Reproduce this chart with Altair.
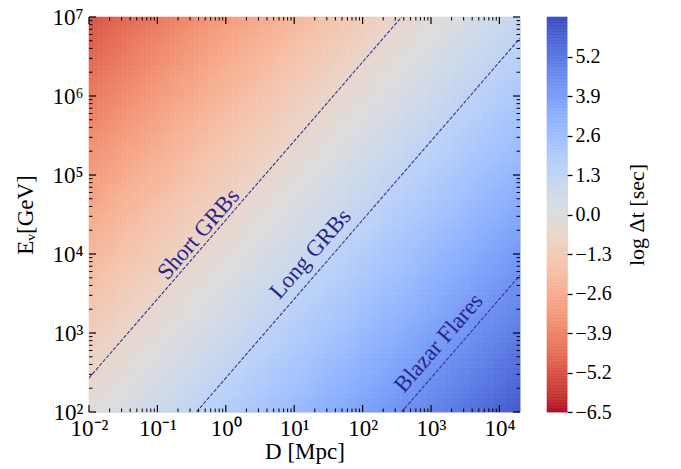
import altair as alt
import numpy as np
import pandas as pd

# ---------------- data ----------------
D_domain = [0.01, 2e4]          # Mpc
E_domain = [1e2, 1e7]           # GeV
x_tick_values = [1e-2, 1e-1, 1e0, 1e1, 1e2, 1e3, 1e4]
x_tick_labels = ["10⁻²", "10⁻¹", "10⁰", "10¹", "10²", "10³", "10⁴"]
y_tick_values = [1e2, 1e3, 1e4, 1e5, 1e6, 1e7]
y_tick_labels = ["10²", "10³", "10⁴", "10⁵", "10⁶", "10⁷"]
cbar_domain = [-6.5, 6.5]
cbar_ticks = [-6.5, -5.2, -3.9, -2.6, -1.3, 0.0, 1.3, 2.6, 3.9, 5.2]

# colour field: log dt = field_offset + log D - log E
field_offset = 3.8
n_D, n_E = 90, 80

# dashed source lines: log E = line_offset - log_dt + log D
line_offset = 4.43
sources = ["Short GRBs", "Long GRBs", "Blazar Flares"]
source_log_dt = [0.0, 2.0, 5.0]
label_D = [0.40, 17.3, 1294.0]
label_E = [1.78e4, 1.0e4, 747.0]

# coolwarm (reversed: red = negative, blue = positive)
coolwarm_r = ["#b40426", "#cb3e38", "#de604d", "#ec7f63", "#f49a7b", "#f7b194",
              "#f5c4ad", "#ecd3c5", "#dddddd", "#cdd9ec", "#b8d0f9", "#a3c2fe",
              "#8db0fe", "#779af7", "#6282ea", "#4d68d7", "#3b4cc0"]

FONT = "Liberation Serif"
W, H = 431, 395

# ---------------- tables ----------------
lD = np.linspace(np.log10(D_domain[0]), np.log10(D_domain[1]), n_D + 1)
lE = np.linspace(np.log10(E_domain[0]), np.log10(E_domain[1]), n_E + 1)
rows = []
for i in range(n_D):
    for j in range(n_E):
        cD = 0.5 * (lD[i] + lD[i + 1])
        cE = 0.5 * (lE[j] + lE[j + 1])
        rows.append({"D0": 10 ** lD[i], "D1": 10 ** lD[i + 1],
                     "E0": 10 ** lE[j], "E1": 10 ** lE[j + 1],
                     "val": field_offset + cD - cE})
grid = pd.DataFrame(rows)

line_rows = []
for s, t in zip(sources, source_log_dt):
    for d in D_domain:
        line_rows.append({"source": s, "D": d,
                          "E": d * 10 ** (line_offset - t)})
lines_df = pd.DataFrame(line_rows)

labels_df = pd.DataFrame({"source": sources, "D": label_D, "E": label_E})


def minor(values, lo, hi):
    out = []
    for v in values + [values[0] / 10]:
        for m in range(2, 10):
            x = v * m
            if lo < x < hi:
                out.append(x)
    return out

x_major = pd.DataFrame({"v": x_tick_values})
x_minor = pd.DataFrame({"v": minor(x_tick_values, *D_domain)})
y_major = pd.DataFrame({"v": y_tick_values})
y_minor = pd.DataFrame({"v": minor(y_tick_values, *E_domain)})

cb_step = 0.05
cb_v = np.arange(cbar_domain[0], cbar_domain[1], cb_step)
cbar_df = pd.DataFrame({"v0": cb_v, "v1": cb_v + cb_step, "val": cb_v + cb_step / 2})

# ---------------- scales / axes ----------------
xscale = alt.Scale(type="log", domain=D_domain, nice=False)
yscale = alt.Scale(type="log", domain=E_domain, nice=False)
cscale = alt.Scale(domain=cbar_domain, range=coolwarm_r, clamp=True)


def label_expr(values, labels):
    exps = [int(round(np.log10(v))) for v in values]
    arr = "[" + ",".join("'" + l + "'" for l in labels) + "]"
    return f"{arr}[round(log(datum.value)/LN10) - ({min(exps)})]"

xaxis = alt.Axis(values=x_tick_values, labelExpr=label_expr(x_tick_values, x_tick_labels),
                 ticks=False, domain=False, grid=False, labelFont=FONT, labelFontSize=23,
                 labelColor="black", labelPadding=5, title="D [Mpc]", titleFont=FONT,
                 titleFontSize=23, titleFontWeight="normal", titleColor="black",
                 titlePadding=0, labelFlush=False)
yaxis = alt.Axis(values=y_tick_values, labelExpr=label_expr(y_tick_values, y_tick_labels),
                 ticks=False, domain=False, grid=False, labelFont=FONT, labelFontSize=23,
                 labelColor="black", labelPadding=6, title="Eᵥ[GeV]", titleFont=FONT,
                 titleFontSize=23, titleFontWeight="normal", titleColor="black",
                 titlePadding=14, labelFlush=False)

heat = alt.Chart(grid).mark_rect(strokeWidth=0.6).encode(
    x=alt.X("D0:Q", scale=xscale, axis=xaxis),
    x2="D1:Q",
    y=alt.Y("E0:Q", scale=yscale, axis=yaxis),
    y2="E1:Q",
    color=alt.Color("val:Q", scale=cscale, legend=None),
    stroke=alt.Stroke("val:Q", scale=cscale, legend=None),
)

lines = alt.Chart(lines_df).mark_line(clip=True, strokeDash=[3.7, 1.6], strokeWidth=1.1,
                                      color="#3232a6").encode(
    x=alt.X("D:Q", scale=xscale),
    y=alt.Y("E:Q", scale=yscale),
    detail="source:N",
)

texts = alt.Chart(labels_df).mark_text(angle=311, font=FONT, fontSize=23,
                                       color="#26268c").encode(
    x=alt.X("D:Q", scale=xscale),
    y=alt.Y("E:Q", scale=yscale),
    text="source:N",
)


def xticks(df, L, sw):
    b = alt.Chart(df).mark_rule(color="black", strokeWidth=sw).encode(
        x=alt.X("v:Q", scale=xscale), y=alt.value(H), y2=alt.value(H - L))
    t = alt.Chart(df).mark_rule(color="black", strokeWidth=sw).encode(
        x=alt.X("v:Q", scale=xscale), y=alt.value(0), y2=alt.value(L))
    return [b, t]


def yticks(df, L, sw):
    l = alt.Chart(df).mark_rule(color="black", strokeWidth=sw).encode(
        y=alt.Y("v:Q", scale=yscale), x=alt.value(0), x2=alt.value(L))
    r = alt.Chart(df).mark_rule(color="black", strokeWidth=sw).encode(
        y=alt.Y("v:Q", scale=yscale), x=alt.value(W), x2=alt.value(W - L))
    return [l, r]

tick_layers = (xticks(x_major, 7, 1.2) + xticks(x_minor, 3.5, 1.0)
               + yticks(y_major, 7, 1.2) + yticks(y_minor, 3.5, 1.0))

main = alt.layer(heat, lines, texts, *tick_layers).properties(width=W, height=H)

cbar = alt.Chart(cbar_df).mark_rect(strokeWidth=0.6).encode(
    x=alt.value(0), x2=alt.value(20),
    y=alt.Y("v0:Q", scale=alt.Scale(domain=cbar_domain, nice=False, zero=False),
            axis=alt.Axis(orient="right", values=cbar_ticks,
                          labelExpr="replace(format(datum.value, '.1f'), '-', '−')",
                          tickSize=5, tickWidth=1.3, tickColor="black", domain=False,
                          grid=False, labelFont=FONT, labelFontSize=20, labelColor="black",
                          labelPadding=3, title="log Δt [sec]", titleFont=FONT,
                          titleFontSize=22, titleFontWeight="normal", titleColor="black",
                          titleAngle=270, titleBaseline="top", titlePadding=15)),
    y2="v1:Q",
    color=alt.Color("val:Q", scale=cscale, legend=None),
    stroke=alt.Stroke("val:Q", scale=cscale, legend=None),
).properties(width=20, height=H)

chart = alt.hconcat(main, cbar, spacing=24).resolve_scale(color="shared").properties(
    padding={"left": 14, "top": 5, "right": 5, "bottom": 5}
).configure_view(stroke="black", strokeWidth=1.6).configure(background="white")

chart.save("out.html", embed_options={"renderer": "svg", "actions": False})
